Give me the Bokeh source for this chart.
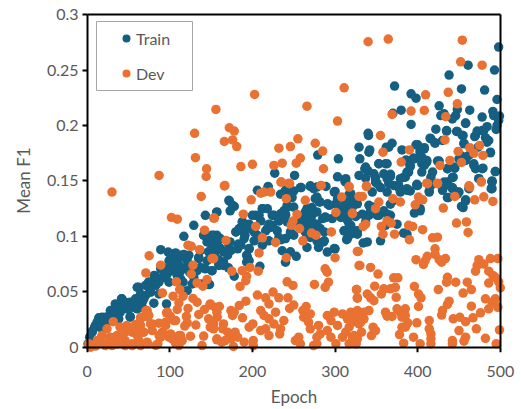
from bokeh.plotting import figure
from bokeh.embed import file_html
from bokeh.resources import INLINE
from bokeh.models import Range1d, FixedTicker, Legend, LegendItem, CustomJSTickFormatter, LinearAxis, BoxAnnotation

train_epoch = [1,3,6,9,12,14,18,24,15,20,28,34,30,34,40,41.5,46,48,40,38,52,54.5,58.5,62.5,62.5,66.6,60.5,66.6,70.6,74.5,
74.5,80.7,82.7,80.7,76.7,86.8,86.8,92.8,96.8,96,103,95,89,98,101,107,111,117,123,99,
107,113,119,124,129,135,117,129,143,156.6,121,116,127,137,143,151,147,139,133,141,
147,153,159,153,147,155,161,159.4,113,109,
171.5,178,219,206,234,240,258,270,278,289,300,313,319,327,278,282,303,313,323,291,
301,307.6,319,157,187.6,212,200,208,224,234,242,240,250,266,278,288,296.6,313,264,272,
278,268,274,260,256,242,232,224,218,210,196,188,180,191,202,220,230,232,246,266,
280,290.6,300,315,311,321,327,315,270,278,286,190,183,202,196,193,193,209,220,212,
235,240,246,253,149,157,151,160,171.5,174,182,165,155,170,161,165,159.4,171,178,151,148,
319,323,321,333,325,345,343,353,341,367,375,337,319,327,319,325,383,387,334,396,
403,367,371,363,345,351,365,377,379,387,399,414,430,436,442,450,458,453,437,462,
490,490,416,
498,461,493,438,372,453,481,392,398,496,426,380,370,448,463,432,428,446,491,442,
478,492,499,498,496,458,392,422,435,484,478,472,495,340,340.5,448,454,469,482,415,
421,369,430,456,484,329,342,362,398,408,381,403,488,458,279,304,330,395,386,405,
411,405,424,391,353,361,336,339,450,462,468,436,445,470,479,405,494,418,387,383,
251,303,329,347,359,367,337,416,443,436,474,490,312,349,270,377,399,227,219]
train_f1 = [.003,.009,.0144,.018,.0226,.0265,.027,.027,.018,.021,.024,.03,.033,.036,.039,.0436,.0406,.0346,.0316,.0256,.0277,.036,.0406,.045,.054,.0406,.0346,.036,.0467,.054,
.0587,.06,.064,.0397,.0497,.0587,.048,.063,.066,.039,.069,.0707,.088,.0858,.08,.085,.08,.0837,.083,.078,
.075,.0686,.0716,.0677,.063,.08,.1,.11,.119,.1216,.051,.0587,.057,.072,.0707,.069,.0566,.057,.069,.101,
.098,.101,.098,.093,.086,.0873,.089,.075,.0617,.0647,
.1325,.127,.145,.1415,.138,.1415,.144,.145,.1445,.145,.1405,.152,.1385,.1294,.1355,.131,.134,.131,.1325,.1294,
.1294,.125,.1264,.122,.113,.125,.119,.119,.119,.1204,.1264,.12,.1264,.125,.122,.1174,.116,.1204,.1174,.119,
.111,.111,.108,.11,.114,.113,.114,.11,.107,.114,.111,.105,.104,.101,.104,.111,.105,.099,.102,.09,
.09,.0858,.0888,.1144,.105,.104,.105,.098,.099,.096,.095,.098,.093,.096,.0888,.083,.0767,.073,.096,.092,
.097,.0767,.086,.082,.099,.101,.092,.09,.092,.0873,.0888,.086,.086,.083,.078,.0767,.0737,.0716,.064,.069,.0566,
.137,.131,.1264,.12,.118,.1264,.122,.119,.119,.119,.111,.113,.11,.105,.102,.104,.103,.102,.094,.121,
.123,.129,.1325,.14,.14,.1475,.1475,.1445,.14,.1415,.146,.14,.1415,.1475,.143,.14,.133,.127,.135,.143,
.143,.149,.146,
.2708,.2545,.25,.2455,.2356,.233,.232,.2286,.2247,.2235,.2178,.2139,.211,.2145,.2139,.2106,.209,.209,.2127,.206,
.2076,.209,.2085,.2046,.2,.2022,.201,.1967,.195,.199,.1955,.195,.1965,.193,.191,.1946,.191,.19,.189,.1886,
.1844,.184,.1865,.184,.185,.1805,.178,.1805,.1826,.179,.178,.1775,.1754,.1715,.1733,.17,.17,.1706,.169,.1715,
.1685,.1655,.168,.163,.1655,.1655,.161,.1594,.17,.173,.1655,.161,.1615,.161,.1615,.158,.1585,.158,.158,.1534,
.155,.1537,.155,.1564,.1564,.154,.1525,.1534,.1534,.149,.152,.1495,.1495,.149,.1456,.146,.147,.157,.1445]

train_epoch_more = [6,10,14,22,28,34,42,46,38,30,52,60.5,64.6,70.6,74.6,58.5,68.6,76.7,83,91,97,103,89,81,99,52,38,26,16,
172,176,173,141,151,161,145,155,173,180,188,184,192,198,204,212,218,226,232,222,216,206,186,196,194,196,105,113,121,105,111,135,137,149,161,157,165,145,
341,313,337,340,349,353,349,355,259,274,240,250,248,276,281,299,293,317,321,311,242,238,240,272,264,289,285,307,317,311,321,327,351,343,359,363,361,272,276,262,246,264,287,287,299,314,339,355,240,236,250,282,341,
416,421,435,447,455,458,456,470,480,486,488,473,365,400,403,408,387,396,405,411,408,391,389,385,379,426,436,444,458,452,468,478,494,474,490,489,442,432,400,414,377,367,363,363,371,387,391,436,448,458,455,403,434,442,448]
train_f1_more = [.0135,.0196,.024,.027,.033,.039,.0436,.039,.033,.0286,.0406,.054,.048,.0557,.0587,.0436,.0436,.05,.0557,.063,.069,.0737,.0707,.0647,.0587,.027,.0256,.024,.018,
.132,.128,.123,.101,.101,.098,.095,.092,.095,.104,.113,.107,.108,.107,.119,.125,.125,.119,.114,.108,.105,.101,.092,.089,.081,.078,.084,.083,.078,.077,.074,.081,.087,.087,.075,.08,.0737,.078,
.176,.149,.1625,.159,.15,.1655,.153,.144,.144,.143,.14,.141,.135,.134,.131,.14,.128,.138,.132,.128,.128,.123,.119,.126,.122,.117,.116,.117,.111,.105,.104,.102,.119,.125,.123,.12,.11,.113,.111,.11,.104,.104,.104,.096,.089,.097,.095,.096,.098,.087,.101,.107,.128,
.188,.184,.1955,.1946,.191,.202,.1835,.191,.1955,.1865,.176,.1805,.1805,.1826,.176,.18,.168,.17,.17,.167,.164,.164,.158,.1534,.152,.168,.161,.1625,.1685,.173,.164,.161,.1585,.152,.15,.143,.153,.149,.146,.141,.144,.156,.152,.1655,.146,.143,.141,.135,.138,.132,.126,.125,.146,.144,.14]

dev_epoch = [202.6,155.8,172,178,130,166,176,181,232,246,131,144.5,186,200,226,236,144,87,166,234.5,244,
340,364.4,454,452,478,311,266,409.6,437,448,392,408,369,434,303,355,255,276,285,358,433,390,449,463,475,468,479,439,453,427,380,258,253,286,477,411,424,338,283,462,317,
30,138,102,109,154,142,122,126,136,75,151,89,71,128,126,145,133,140,108,112,91,104,116,111,128,133,71,148.5,142,109,122,96,100.5,120,135,107,121,118,131.5,147,153,64.6,73,31.5,24,18,40,48,58.5,64.6,76.7,86.8,95,46,56.5,66.6,78.7,91,101,111,125,28,36,2,4,10,16,22,30,46,54.5,62.5,72.6,85.5,89,99,107,115,139,141,157,155,157.4,149,
166.7,198.5,214,222,210,235,245,241,264,283,317,308,329,189,153,301,321,254,204,249,247,257,271.6,277,295.5,212,261,228,168,208,241,153,300,327,329,197,187.6,207,175,193,192,288,290.4,242,249,292,275,288,185,206,225,216,232,220,243,326,327,192,184,174,178,160,149,157,176,188,250,245,265,261,210,214,220,228,226,238,234,233,262,270,268,270,280,290.6,299,309,319,327,295,303,315,325,317,329,165,164,151,153,170,179,182,174,157,163,167,177,190,201,201,196,200.5,210,216,220,256,252,258,274,278,278,282,295,301,309,313,321,327,317,325.6,290.6,
338,412,424,477,463,333,370,379,401,406,397,445,469,480,491,353,349,321,431,447,459,461,363,368,356,337,334,389,394,406,358,372,390,418,424,421,328,421,398,411.6,409,407,426,433.6,429,488,497,474,480,472,470,486,491,494,498,486,500,330,343,352,371,376,436,435,446,460,425,465,455,396,401,404,401,348,326,373,367,359,356,339,327,343,347,374,438,436,482,494,490,497,486,465,430,429,476,375,385,361,363,369,379,381,385,341,335,323,327,335,331,321,443,451,458,467,414,399,388,381,385,378,395,383,403,414,416,416,416,442,442,450,458,456,471,482,499,495,346,344,349,332,323,321,
18,40,48.4,54.5,64.6,72.6,74.6,78.7,68.6,60.5,42,28,20,12,36,46,54.5,64.6,72.6,83,87,95,97,105,103,113,111]
dev_f1 = [.228,.2145,.198,.195,.193,.1856,.187,.181,.1796,.181,.171,.161,.163,.165,.164,.166,.154,.155,.1455,.149,.148,
.2756,.278,.277,.2575,.2545,.234,.2175,.2277,.23,.2196,.213,.2136,.21,.208,.204,.191,.188,.184,.177,.176,.187,.178,.1766,.18,.182,.175,.173,.1685,.1667,.164,.167,.1706,.166,.161,.1495,.148,.148,.1455,.146,.1456,.145,
.14,.136,.117,.1155,.1165,.1056,.092,.091,.088,.0825,.08,.074,.067,.074,.066,.061,.058,.055,.059,.052,.049,.046,.046,.04,.044,.0406,.0328,.038,.034,.034,.035,.031,.028,.0277,.0295,.024,.022,.019,.02,.0256,.021,.027,.0274,.023,.0166,.0105,.018,.0196,.0205,.0196,.021,.0217,.0226,.0135,.015,.0135,.015,.0135,.012,.0105,.0099,.009,.0105,.003,0,.001,.0045,.0015,.0015,.006,.0015,.006,.003,.003,.009,.009,.0036,.006,.0015,.01,.0066,.036,.027,.018,
.146,.133,.14,.14,.139,.149,.1475,.134,.1325,.146,.1445,.1355,.136,.12,.1165,.1216,.1204,.1198,.109,.1138,.11,.107,.103,.101,.104,.0987,.096,.0945,.0963,.085,.0807,.08,.0807,.0864,.0737,.072,.069,.0686,.0686,.064,.06,.0707,.0677,.059,.0557,.0587,.0566,.054,.0548,.047,.0497,.0445,.0445,.039,.0445,.052,.0445,.0415,.0376,.033,.0316,.0367,.039,.0316,.0286,.0265,.038,.035,.0367,.033,.033,.0286,.0256,.0316,.021,.024,.0166,.012,.027,.03,.0226,.0166,.0196,.0286,.0316,.03,.0316,.033,.024,.0196,.0256,.0256,.018,.021,.021,.0166,.021,.0166,.0135,.0135,.009,.0075,.0075,.0045,.006,.0006,.0045,.006,.0015,.018,.021,.015,.0166,.0105,.009,.006,.003,.0015,.003,.009,.012,.009,.003,.009,.0135,.009,.0075,.003,.003,.015,
.145,.1475,.1475,.149,.1445,.136,.134,.131,.1355,.133,.1285,.136,.133,.1357,.1315,.131,.125,.121,.1255,.112,.113,.1035,.114,.112,.109,.111,.109,.11,.109,.106,.102,.102,.097,.0987,.0993,.0888,.0864,.0837,.079,.082,.078,.0746,.079,.08,.0767,.08,.08,.079,.075,.0737,.0686,.0686,.0647,.063,.059,.0578,.0536,.0737,.072,.066,.0626,.0626,.063,.0587,.0587,.0587,.052,.052,.0488,.0548,.048,.0445,.0367,.055,.052,.054,.0527,.0527,.048,.048,.0442,.0445,.042,.045,.0415,.0385,.0436,.0436,.0406,.036,.0346,.037,.033,.029,.031,.0346,.0346,.0316,.028,.0277,.0316,.027,.0286,.033,.0316,.03,.027,.0256,.0226,.0226,.0256,.027,.023,.0265,.024,.022,.022,.018,.018,.0114,.009,.0036,.003,.0166,.012,.0075,.003,.006,.003,.015,.009,.0054,.0166,.008,.0156,.003,.018,.0105,.015,.0135,.0105,.006,
.0105,.018,.0165,.0135,.0256,.033,.0286,.021,.0135,.0105,.009,.0075,.003,.006,.003,.0015,.003,.0015,.0045,.0015,.0105,.0196,.0316,.024,.0075,.0105,.0015]

y_ticks = [0, 0.05, 0.1, 0.15, 0.2, 0.25, 0.3]
x_ticks = [0, 100, 200, 300, 400, 500]
FONT = "Lato"
TEXT = "#595959"
TRAIN = "#156082"
DEV = "#E97132"

p = figure(frame_width=425, frame_height=344, output_backend="svg", toolbar_location=None,
           x_range=Range1d(-6.9, 507.5), y_range=Range1d(-0.0048, 0.3056),
           min_border_left=81, min_border_right=10, min_border_top=8, min_border_bottom=50,
           x_axis_label="Epoch", y_axis_label="Mean F1")
p.grid.visible = False
p.outline_line_color = None
r1 = p.scatter(train_epoch + train_epoch_more, train_f1 + train_f1_more, size=9.5, color=TRAIN, line_width=0)
r2 = p.scatter(dev_epoch, dev_f1, size=9.5, color=DEV, line_width=0)

# Labelling axes sit at the frame edges and carry only the texts.
xa, ya = p.xaxis[0], p.yaxis[0]
for ax in (xa, ya):
    ax.axis_line_color = None
    ax.major_tick_line_color = None
    ax.minor_tick_line_color = None
    ax.major_tick_out = 0
    ax.major_tick_in = 0
    ax.minor_tick_out = 0
    ax.major_label_text_color = TEXT
    ax.major_label_text_font = FONT
    ax.major_label_text_font_size = "16px"
    ax.axis_label_text_color = TEXT
    ax.axis_label_text_font = FONT
    ax.axis_label_text_font_size = "17px"
    ax.axis_label_text_font_style = "normal"
xa.ticker = FixedTicker(ticks=x_ticks)
ya.ticker = FixedTicker(ticks=y_ticks)
ya.formatter = CustomJSTickFormatter(code="return String(tick)")
xa.major_label_standoff = 13
ya.major_label_standoff = 3
xa.axis_label_standoff = 6
ya.axis_label_standoff = 10

# Line-and-tick axes pinned to the data limits; points may overlap them as in the reference.
def rule(side, loc, bnd, ticks):
    ax = LinearAxis(fixed_location=loc, bounds=bnd, ticker=FixedTicker(ticks=ticks),
                    formatter=CustomJSTickFormatter(code='return ""'),
                    axis_line_color="black", axis_line_width=2,
                    major_tick_line_color="black", major_tick_line_width=2,
                    minor_tick_line_color=None, minor_tick_out=0, major_tick_out=0, major_tick_in=5,
                    major_label_standoff=0)
    p.add_layout(ax, side)

rule("above", 0, (0, 500), x_ticks)
rule("above", 0.3, (0, 500), [])
rule("right", 0, (0, 0.3), y_ticks)
rule("right", 500, (0, 0.3), [])

p.add_layout(BoxAnnotation(left=96, right=192, top=21, bottom=90,
                           left_units="canvas", right_units="canvas", top_units="canvas", bottom_units="canvas",
                           fill_alpha=0, line_color="#A6A6A6", line_width=1, line_alpha=1))

legend = Legend(items=[LegendItem(label="Train", renderers=[r1]), LegendItem(label="Dev", renderers=[r2])],
                location=(35, 269), border_line_color=None,
                background_fill_alpha=0, label_text_font=FONT, label_text_font_size="16px",
                label_text_color=TEXT, spacing=15, glyph_width=20, glyph_height=20,
                label_height=20, label_standoff=0, margin=0)
p.add_layout(legend, "center")

open("out.html", "w").write(file_html(p, INLINE))
